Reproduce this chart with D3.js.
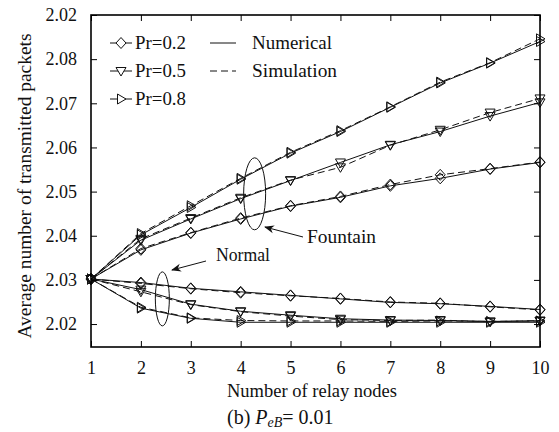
<!DOCTYPE html>
<html>
<head>
<meta charset="utf-8">
<script src="https://cdn.jsdelivr.net/npm/d3@7"></script>
<style>
  html, body { margin: 0; padding: 0; background: #fff; }
  svg { display: block; }
  svg text { font-family: "Liberation Serif", Tinos, "Times New Roman", Times, serif; }
</style>
</head>
<body>
<svg id="chart" width="559" height="432"></svg>
<script>
// Relay nodes on the x axis
const relayNodes = [1, 2, 3, 4, 5, 6, 7, 8, 9, 10];

// Fountain-coded scheme
const fountainPr02Num = [2.0302, 2.0368, 2.0406, 2.0438, 2.0467, 2.0487, 2.0513, 2.0530, 2.0551, 2.0566];
const fountainPr02Sim = [2.0302, 2.0371, 2.0407, 2.0440, 2.0468, 2.0489, 2.0516, 2.0538, 2.0552, 2.0567];
const fountainPr05Num = [2.0302, 2.0390, 2.0438, 2.0484, 2.0525, 2.0566, 2.0606, 2.0636, 2.0671, 2.0702];
const fountainPr05Sim = [2.0302, 2.0393, 2.0440, 2.0486, 2.0526, 2.0555, 2.0605, 2.0640, 2.0679, 2.0711];
const fountainPr08Num = [2.0302, 2.0402, 2.0464, 2.0528, 2.0587, 2.0636, 2.0691, 2.0746, 2.0791, 2.0840];
const fountainPr08Sim = [2.0302, 2.0405, 2.0468, 2.0530, 2.0589, 2.0638, 2.0692, 2.0748, 2.0792, 2.0846];

// Normal scheme
const normalPr02Num = [2.0302, 2.0294, 2.0281, 2.0273, 2.0265, 2.0257, 2.0249, 2.0246, 2.0240, 2.0233];
const normalPr02Sim = [2.0302, 2.0292, 2.0280, 2.0271, 2.0264, 2.0258, 2.0250, 2.0247, 2.0239, 2.0232];
const normalPr05Num = [2.0302, 2.0278, 2.0245, 2.0229, 2.0220, 2.0212, 2.0209, 2.0208, 2.0206, 2.0207];
const normalPr05Sim = [2.0302, 2.0273, 2.0244, 2.0228, 2.0218, 2.0210, 2.0208, 2.0209, 2.0205, 2.0208];
const normalPr08Num = [2.0302, 2.0236, 2.0213, 2.0204, 2.0204, 2.0204, 2.0204, 2.0204, 2.0204, 2.0204];
const normalPr08Sim = [2.0302, 2.0238, 2.0214, 2.0208, 2.0207, 2.0207, 2.0206, 2.0207, 2.0206, 2.0207];

// Y tick positions and their printed labels
const yTickValues = [2.02, 2.03, 2.04, 2.05, 2.06, 2.07, 2.08, 2.09];
const yTickLabels = ["2.02", "2.03", "2.04", "2.05", "2.06", "2.07", "2.08", "2.02"];

const legendLabels = ["Pr=0.2", "Pr=0.5", "Pr=0.8"];
const styleLabels = ["Numerical", "Simulation"];

const FONT = "'Liberation Serif', Tinos, 'Times New Roman', Times, serif";

const svg = d3.select("#chart").attr("font-family", FONT);
const plotLeft = 91, plotRight = 540, plotTop = 15, plotBottom = 347;

const x = d3.scaleLinear().domain([1, 10]).range([plotLeft, plotRight]);
const y = d3.scaleLinear().domain([2.0148, 2.09]).range([plotBottom, plotTop]);

// Marker shapes
const markerPath = {
  diamond: "M0,-5.5L5,0L0,5.5L-5,0Z",
  down: "M-5,-3.5L5,-3.5L0,5Z",
  right: "M-3.5,-5L5,0L-3.5,5Z"
};

const series = [
  { vals: fountainPr02Num, dash: null, m: "diamond" },
  { vals: fountainPr02Sim, dash: "7,4", m: "diamond" },
  { vals: fountainPr05Num, dash: null, m: "down" },
  { vals: fountainPr05Sim, dash: "7,4", m: "down" },
  { vals: fountainPr08Num, dash: null, m: "right" },
  { vals: fountainPr08Sim, dash: "7,4", m: "right" },
  { vals: normalPr02Num, dash: null, m: "diamond" },
  { vals: normalPr02Sim, dash: "7,4", m: "diamond" },
  { vals: normalPr05Num, dash: null, m: "down" },
  { vals: normalPr05Sim, dash: "7,4", m: "down" },
  { vals: normalPr08Num, dash: null, m: "right" },
  { vals: normalPr08Sim, dash: "7,4", m: "right" }
];

const line = d3.line().x((d, i) => x(relayNodes[i])).y(d => y(d));

const plot = svg.append("g");
series.forEach(s => {
  plot.append("path")
    .attr("d", line(s.vals))
    .attr("fill", "none")
    .attr("stroke", "#111")
    .attr("stroke-width", 1)
    .attr("stroke-dasharray", s.dash);
  plot.selectAll(null)
    .data(s.vals)
    .enter().append("path")
    .attr("d", markerPath[s.m])
    .attr("transform", (d, i) => `translate(${x(relayNodes[i])},${y(d)})`)
    .attr("fill", "none")
    .attr("stroke", "#111")
    .attr("stroke-width", 1);
});

// Frame with inward ticks on all four sides
const frame = svg.append("g");
frame.append("rect")
  .attr("x", plotLeft).attr("y", plotTop)
  .attr("width", plotRight - plotLeft).attr("height", plotBottom - plotTop)
  .attr("fill", "none").attr("stroke", "#000").attr("stroke-width", 1.6);

const xAxisB = d3.axisBottom(x).tickValues(relayNodes).tickSize(-6).tickPadding(14).tickFormat(d3.format("d"));
const xAxisT = d3.axisTop(x).tickValues(relayNodes).tickSize(-6).tickFormat("");
const yAxisL = d3.axisLeft(y).tickValues(yTickValues).tickSize(-6).tickPadding(14)
  .tickFormat((d, i) => yTickLabels[i]);
const yAxisR = d3.axisRight(y).tickValues(yTickValues).tickSize(-6).tickFormat("");

function styleAxis(g) {
  g.attr("font-family", FONT).attr("font-size", 18);
  g.select(".domain").remove();
  g.selectAll(".tick line").attr("stroke", "#000").attr("stroke-width", 1);
  g.selectAll(".tick text").attr("fill", "#111");
}
frame.append("g").attr("transform", `translate(0,${plotBottom})`).call(xAxisB).call(styleAxis);
frame.append("g").attr("transform", `translate(0,${plotTop})`).call(xAxisT).call(styleAxis);
frame.append("g").attr("transform", `translate(${plotLeft},0)`).call(yAxisL).call(styleAxis);
frame.append("g").attr("transform", `translate(${plotRight},0)`).call(yAxisR).call(styleAxis);

// Axis titles
svg.append("text")
  .attr("transform", "translate(31,186) rotate(-90)")
  .attr("text-anchor", "middle")
  .attr("font-size", 18).attr("fill", "#111")
  .attr("textLength", 305).attr("lengthAdjust", "spacingAndGlyphs")
  .text("Average number of transmitted packets");

svg.append("text")
  .attr("x", 312).attr("y", 397)
  .attr("text-anchor", "middle")
  .attr("font-size", 18).attr("fill", "#111")
  .attr("textLength", 170).attr("lengthAdjust", "spacingAndGlyphs")
  .text("Number of relay nodes");

// Caption
const cap = svg.append("text")
  .attr("x", 227).attr("y", 424)
  .attr("font-size", 20).attr("fill", "#111");
cap.append("tspan").text("(b) ");
cap.append("tspan").attr("font-style", "italic").text("P");
cap.append("tspan").attr("font-style", "italic").attr("font-size", 14).attr("dy", 3).text("eB");
cap.append("tspan").attr("dy", -3).text("= 0.01");

// Legend: marker shapes
const legend = svg.append("g");
const legendShapes = ["diamond", "down", "right"];
legendLabels.forEach((lab, i) => {
  const ly = 43 + i * 28;
  legend.append("line").attr("x1", 110).attr("x2", 132).attr("y1", ly).attr("y2", ly)
    .attr("stroke", "#111").attr("stroke-width", 1);
  legend.append("path").attr("d", markerPath[legendShapes[i]])
    .attr("transform", `translate(121,${ly})`)
    .attr("fill", "#fff").attr("stroke", "#111").attr("stroke-width", 1);
  legend.append("text").attr("x", 135).attr("y", ly + 6)
    .attr("font-size", 18).attr("fill", "#111")
    .attr("textLength", 51).attr("lengthAdjust", "spacingAndGlyphs")
    .text(lab);
});

// Legend: line styles
styleLabels.forEach((lab, i) => {
  const ly = 43 + i * 28;
  legend.append("line").attr("x1", 210).attr("x2", 236).attr("y1", ly).attr("y2", ly)
    .attr("stroke", "#111").attr("stroke-width", 1)
    .attr("stroke-dasharray", i === 1 ? "7,4" : null);
  legend.append("text").attr("x", 252).attr("y", ly + 6)
    .attr("font-size", 18).attr("fill", "#111")
    .attr("textLength", i === 0 ? 80 : 85).attr("lengthAdjust", "spacingAndGlyphs")
    .text(lab);
});

// Annotations: groups circled with ellipses and labelled by arrows
const ann = svg.append("g");
svg.append("defs").append("marker")
  .attr("id", "arrowhead")
  .attr("viewBox", "0 0 10 10")
  .attr("refX", 9).attr("refY", 5)
  .attr("markerWidth", 10).attr("markerHeight", 10)
  .attr("markerUnits", "userSpaceOnUse")
  .attr("orient", "auto")
  .append("path").attr("d", "M0,1L10,5L0,9L3,5Z").attr("fill", "#111");

ann.append("ellipse").attr("cx", x(4.28)).attr("cy", y(2.0495)).attr("rx", 11).attr("ry", 36)
  .attr("fill", "none").attr("stroke", "#111").attr("stroke-width", 1);
ann.append("ellipse").attr("cx", x(2.43)).attr("cy", y(2.0257)).attr("rx", 7).attr("ry", 27)
  .attr("fill", "none").attr("stroke", "#111").attr("stroke-width", 1);

ann.append("line").attr("x1", 303).attr("y1", 237).attr("x2", 265).attr("y2", 227)
  .attr("stroke", "#111").attr("stroke-width", 1).attr("marker-end", "url(#arrowhead)");
ann.append("text").attr("x", 307).attr("y", 243)
  .attr("font-size", 18).attr("fill", "#111")
  .attr("textLength", 69).attr("lengthAdjust", "spacingAndGlyphs")
  .text("Fountain");

ann.append("line").attr("x1", 206).attr("y1", 261).attr("x2", 172).attr("y2", 270)
  .attr("stroke", "#111").attr("stroke-width", 1).attr("marker-end", "url(#arrowhead)");
ann.append("text").attr("x", 216).attr("y", 261)
  .attr("font-size", 18).attr("fill", "#111")
  .attr("textLength", 54).attr("lengthAdjust", "spacingAndGlyphs")
  .text("Normal");
</script>
</body>
</html>
